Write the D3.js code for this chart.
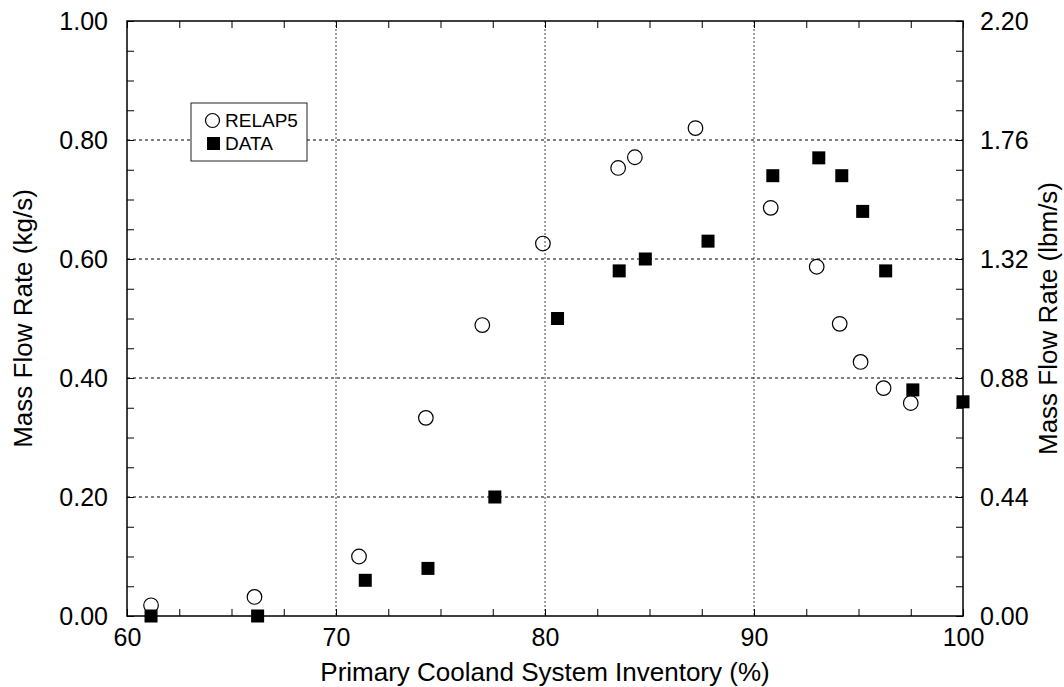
<!DOCTYPE html>
<html>
<head>
<meta charset="utf-8">
<script src="https://cdn.jsdelivr.net/npm/d3@7"></script>
<style>
  body { margin: 0; background: #fff; }
  text { font-family: 'Liberation Sans', Arial, sans-serif; fill: #000; }
</style>
</head>
<body>
<div id="chart"></div>
<script>
// data
const relapX = [61.15, 66.1, 71.1, 74.3, 77.0, 79.9, 83.5, 84.3, 87.2, 90.8, 93.0, 94.1, 95.1, 96.2, 97.5];
const relapY = [0.018, 0.032, 0.100, 0.333, 0.489, 0.626, 0.753, 0.771, 0.820, 0.686, 0.587, 0.491, 0.427, 0.383, 0.358];

const dataX = [61.15, 66.25, 71.4, 74.4, 77.6, 80.6, 83.55, 84.8, 87.8, 90.9, 93.1, 94.2, 95.2, 96.3, 97.6, 100];
const dataY = [0, 0, 0.06, 0.08, 0.20, 0.50, 0.58, 0.60, 0.63, 0.74, 0.77, 0.74, 0.68, 0.58, 0.38, 0.36];

const xTicks = [60, 70, 80, 90, 100];
const yTicks = [0, 0.2, 0.4, 0.6, 0.8, 1.0];
const y2Ticks = [0, 0.44, 0.88, 1.32, 1.76, 2.20];
const xGrid = [70, 80, 90];
const yGrid = [0.2, 0.4, 0.6, 0.8];

const width = 1064;
const height = 687;
const margin = {top: 21, bottom: 71, left: 127, right: 101};

const svg = d3.select('#chart')
  .append('svg')
  .attr('width', width)
  .attr('height', height);

const x = d3.scaleLinear().domain([60, 100]).range([margin.left, width - margin.right]);
const y = d3.scaleLinear().domain([0, 1]).range([height - margin.bottom, margin.top]);
const y2 = d3.scaleLinear().domain([0, 2.2]).range([height - margin.bottom, margin.top]);

const x0 = margin.left, x1 = width - margin.right;
const yb = height - margin.bottom, yt = margin.top;

// grid lines
svg.append('g').selectAll('line')
  .data(xGrid).enter()
  .append('line')
  .attr('x1', d => x(d)).attr('x2', d => x(d))
  .attr('y1', yt).attr('y2', yb)
  .attr('stroke', '#444')
  .attr('stroke-dasharray', '2,2');

svg.append('g').selectAll('line')
  .data(yGrid).enter()
  .append('line')
  .attr('x1', x0).attr('x2', x1)
  .attr('y1', d => y(d)).attr('y2', d => y(d))
  .attr('stroke', '#000')
  .attr('stroke-dasharray', '3,3');

// minor ticks all round, pointing in
const xMinor = d3.range(60, 100.01, 2.5);
const yMinor = d3.range(0, 1.001, 0.05);

function noDomain(g) { g.select('.domain').remove(); }

svg.append('g')
  .attr('transform', `translate(0,${yb})`)
  .call(d3.axisBottom(x).tickValues(xMinor).tickSize(-7).tickFormat(''))
  .call(noDomain);
svg.append('g')
  .attr('transform', `translate(0,${yt})`)
  .call(d3.axisTop(x).tickValues(xMinor).tickSize(-7).tickFormat(''))
  .call(noDomain);
svg.append('g')
  .attr('transform', `translate(${x0},0)`)
  .call(d3.axisLeft(y).tickValues(yMinor).tickSize(-7).tickFormat(''))
  .call(noDomain);
svg.append('g')
  .attr('transform', `translate(${x1},0)`)
  .call(d3.axisRight(y).tickValues(yMinor).tickSize(-7).tickFormat(''))
  .call(noDomain);

// tick labels
svg.append('g')
  .attr('transform', `translate(0,${yb})`)
  .call(d3.axisBottom(x).tickValues(xTicks).tickSize(0).tickPadding(12).tickFormat(d3.format('d')))
  .call(noDomain)
  .selectAll('text').attr('font-size', 25).attr('font-family', null);
svg.append('g')
  .attr('transform', `translate(${x0},0)`)
  .call(d3.axisLeft(y).tickValues(yTicks).tickSize(0).tickPadding(19).tickFormat(d3.format('.2f')))
  .call(noDomain)
  .selectAll('text').attr('font-size', 25).attr('font-family', null);
svg.append('g')
  .attr('transform', `translate(${x1},0)`)
  .call(d3.axisRight(y2).tickValues(y2Ticks).tickSize(0).tickPadding(17).tickFormat(d3.format('.2f')))
  .call(noDomain)
  .selectAll('text').attr('font-size', 25).attr('font-family', null);

// frame
svg.append('rect')
  .attr('x', x0).attr('y', yt)
  .attr('width', x1 - x0).attr('height', yb - yt)
  .attr('fill', 'none')
  .attr('stroke', '#000')
  .attr('stroke-width', 1.5);

// legend
const lg = svg.append('g');
lg.append('rect')
  .attr('x', 191).attr('y', 103)
  .attr('width', 116).attr('height', 58)
  .attr('fill', '#fff').attr('stroke', '#222').attr('stroke-width', 1);
lg.append('circle')
  .attr('cx', 212.5).attr('cy', 120.5).attr('r', 7)
  .attr('fill', '#fff').attr('stroke', '#000').attr('stroke-width', 1.2);
lg.append('rect')
  .attr('x', 207).attr('y', 137).attr('width', 13).attr('height', 13)
  .attr('fill', '#000');
lg.append('text').attr('x', 225).attr('y', 127).attr('font-size', 19).text('RELAP5');
lg.append('text').attr('x', 225).attr('y', 150).attr('font-size', 19).text('DATA');

// points
svg.append('g').selectAll('circle')
  .data(relapX).enter()
  .append('circle')
  .attr('cx', d => x(d))
  .attr('cy', (d, i) => y(relapY[i]))
  .attr('r', 7.3)
  .attr('fill', 'none')
  .attr('stroke', '#000')
  .attr('stroke-width', 1.2);

const sq = 13;
svg.append('g').selectAll('rect')
  .data(dataX).enter()
  .append('rect')
  .attr('x', d => x(d) - sq / 2)
  .attr('y', (d, i) => y(dataY[i]) - sq / 2)
  .attr('width', sq).attr('height', sq)
  .attr('fill', '#000');

// axis titles
svg.append('text')
  .attr('x', (x0 + x1) / 2).attr('y', 681)
  .attr('text-anchor', 'middle')
  .attr('font-size', 26)
  .text('Primary Cooland System Inventory (%)');

svg.append('text')
  .attr('transform', `translate(32,${(yt + yb) / 2}) rotate(-90)`)
  .attr('text-anchor', 'middle')
  .attr('font-size', 26)
  .text('Mass Flow Rate (kg/s)');

svg.append('text')
  .attr('transform', `translate(1057,${(yt + yb) / 2}) rotate(-90)`)
  .attr('text-anchor', 'middle')
  .attr('font-size', 26)
  .text('Mass Flow Rate (lbm/s)');
</script>
</body>
</html>
